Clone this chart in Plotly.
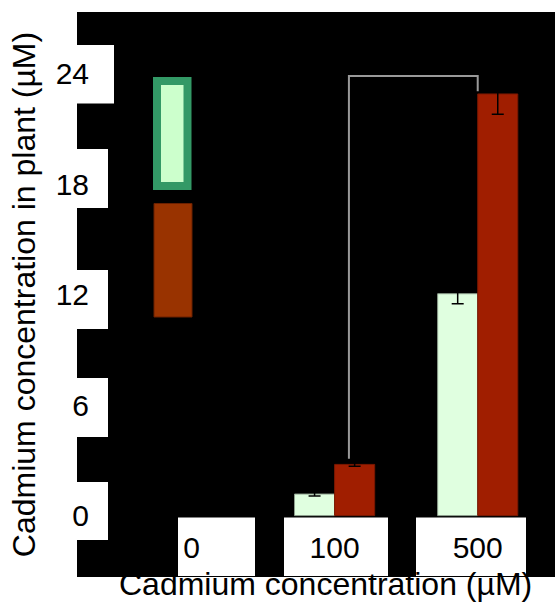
import plotly.graph_objects as go

# ---- data ----
categories = ["0", "100", "500"]
series_names = ["Series A", "Series B"]
green_values = [0.0, 1.17, 12.05]
green_errors = [0.0, 0.1, 0.55]
red_values = [0.0, 2.78, 22.9]
red_errors = [0.0, 0.1, 1.1]
y_ticks = [0, 6, 12, 18, 24]
y_tick_labels = ["0", "6", "12", "18", "24"]
x_title = "Cadmium concentration (µM)"
y_title = "Cadmium concentration in plant (µM)"

FONT = "Liberation Sans, Arial, sans-serif"

# figure pixel geometry of the plot area
W, H = 555, 602
L, R, T, B = 77, 555, 12, 577


def px(xp):
    return (xp - L) / (R - L)


def py(yp):
    return (B - yp) / (B - T)


fig = go.Figure()
fig.add_trace(go.Bar(
    x=categories, y=green_values, name=series_names[0],
    marker=dict(color="#e0ffe0", line=dict(color="#8fa08f", width=[0, 1, 1])),
    error_y=dict(type="data", array=green_errors, color="#000000",
                 thickness=1.5, width=6),
))
fig.add_trace(go.Bar(
    x=categories, y=red_values, name=series_names[1],
    marker=dict(color="#a01e00", line=dict(color="#7a1800", width=[0, 1, 1])),
    error_y=dict(type="data", array=red_errors, color="#000000",
                 thickness=1.5, width=6),
))

shapes = []
# black panel
shapes.append(dict(type="rect", xref="paper", yref="paper", x0=0, x1=1, y0=0, y1=1,
                   fillcolor="#000000", line=dict(width=0), layer="below"))
# white boxes behind y tick labels
for (y0, y1, x1) in [(45, 103.6, 114), (149, 208, 108), (270, 329, 108),
                     (378, 437, 108), (482, 540, 108)]:
    shapes.append(dict(type="rect", xref="paper", yref="paper",
                       x0=px(0), x1=px(x1), y0=py(y1), y1=py(y0),
                       fillcolor="#ffffff", line=dict(width=0), layer="below"))
# white boxes behind x tick labels
for (x0, x1) in [(178, 255), (284, 388), (416, 526)]:
    shapes.append(dict(type="rect", xref="paper", yref="paper",
                       x0=px(x0), x1=px(x1), y0=py(576), y1=py(517.5),
                       fillcolor="#ffffff", line=dict(width=0), layer="below"))
# legend-like swatches
shapes.append(dict(type="rect", xref="paper", yref="paper",
                   x0=px(157), x1=px(187.5), y0=py(186), y1=py(81),
                   fillcolor="#ccffcc", line=dict(color="#339966", width=8), layer="above"))
shapes.append(dict(type="rect", xref="paper", yref="paper",
                   x0=px(154), x1=px(192), y0=py(317), y1=py(203.5),
                   fillcolor="#993300", line=dict(color="#6a2000", width=1), layer="above"))
# significance bracket
shapes.append(dict(type="path", xref="x", yref="y",
                   path="M 1.10 3.09 L 1.10 23.87 L 2.0 23.87 L 2.0 23.04",
                   line=dict(color="#999999", width=2)))

fig.update_layout(
    width=W, height=H,
    margin=dict(l=L, r=W - R, t=T, b=H - B, autoexpand=False),
    paper_bgcolor="#ffffff", plot_bgcolor="rgba(0,0,0,0)",
    barmode="group", bargap=0.44, bargroupgap=0,
    showlegend=False,
    font=dict(family=FONT, size=30, color="#000000"),
    shapes=shapes,
    annotations=[dict(text=x_title, xref="paper", yref="paper",
                      x=px(325), y=py(584), xanchor="center", yanchor="middle",
                      showarrow=False, font=dict(size=32, family=FONT, color="#000000"))],
    xaxis=dict(
        type="category", range=[-0.80, 2.54], showgrid=False, zeroline=False,
        showline=False, ticks="", tickfont=dict(size=30, family=FONT),
        ticklabelstandoff=-50,
    ),
    yaxis=dict(
        range=[-3.335, 27.35], showgrid=False, zeroline=False, showline=False,
        ticks="", tickvals=y_ticks, ticktext=y_tick_labels,
        tickfont=dict(size=30, family=FONT), ticklabelstandoff=-13,
        title=dict(text=y_title, font=dict(size=32, family=FONT), standoff=10),
    ),
)

fig.write_html(
    "out.html",
    config={"displayModeBar": False},
    post_script="document.body.style.margin='0';document.body.style.overflow='hidden';",
)
